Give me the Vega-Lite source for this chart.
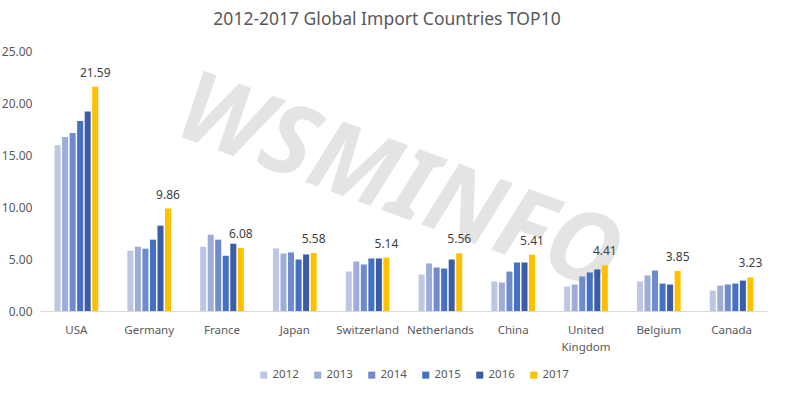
{
  "$schema": "https://vega.github.io/schema/vega-lite/v6.json",
  "width": 728,
  "height": 270,
  "autosize": {"type": "none"},
  "padding": {"left": 40, "top": 41, "right": 23, "bottom": 83},
  "background": "white",
  "title": {"text": "2012-2017 Global Import Countries TOP10", "fontSize": 17.5, "font": "Noto Sans", "fontWeight": "normal", "color": "#595959", "offset": 13, "dx": -17},
  "config": {"view": {"stroke": null}, "font": "Noto Sans"},
  "datasets": {
    "imports": [
      {"country": "USA", "year": "2012", "value": 15.95},
      {"country": "USA", "year": "2013", "value": 16.75},
      {"country": "USA", "year": "2014", "value": 17.15},
      {"country": "USA", "year": "2015", "value": 18.3},
      {"country": "USA", "year": "2016", "value": 19.2},
      {"country": "USA", "year": "2017", "value": 21.59},
      {"country": "Germany", "year": "2012", "value": 5.8},
      {"country": "Germany", "year": "2013", "value": 6.19},
      {"country": "Germany", "year": "2014", "value": 6.0},
      {"country": "Germany", "year": "2015", "value": 6.87},
      {"country": "Germany", "year": "2016", "value": 8.22},
      {"country": "Germany", "year": "2017", "value": 9.86},
      {"country": "France", "year": "2012", "value": 6.19},
      {"country": "France", "year": "2013", "value": 7.35},
      {"country": "France", "year": "2014", "value": 6.87},
      {"country": "France", "year": "2015", "value": 5.32},
      {"country": "France", "year": "2016", "value": 6.48},
      {"country": "France", "year": "2017", "value": 6.08},
      {"country": "Japan", "year": "2012", "value": 6.03},
      {"country": "Japan", "year": "2013", "value": 5.54},
      {"country": "Japan", "year": "2014", "value": 5.64},
      {"country": "Japan", "year": "2015", "value": 4.96},
      {"country": "Japan", "year": "2016", "value": 5.45},
      {"country": "Japan", "year": "2017", "value": 5.58},
      {"country": "Switzerland", "year": "2012", "value": 3.8},
      {"country": "Switzerland", "year": "2013", "value": 4.77},
      {"country": "Switzerland", "year": "2014", "value": 4.48},
      {"country": "Switzerland", "year": "2015", "value": 5.06},
      {"country": "Switzerland", "year": "2016", "value": 5.06},
      {"country": "Switzerland", "year": "2017", "value": 5.14},
      {"country": "Netherlands", "year": "2012", "value": 3.51},
      {"country": "Netherlands", "year": "2013", "value": 4.58},
      {"country": "Netherlands", "year": "2014", "value": 4.19},
      {"country": "Netherlands", "year": "2015", "value": 4.09},
      {"country": "Netherlands", "year": "2016", "value": 4.96},
      {"country": "Netherlands", "year": "2017", "value": 5.56},
      {"country": "China", "year": "2012", "value": 2.84},
      {"country": "China", "year": "2013", "value": 2.74},
      {"country": "China", "year": "2014", "value": 3.8},
      {"country": "China", "year": "2015", "value": 4.67},
      {"country": "China", "year": "2016", "value": 4.67},
      {"country": "China", "year": "2017", "value": 5.41},
      {"country": "United Kingdom", "year": "2012", "value": 2.35},
      {"country": "United Kingdom", "year": "2013", "value": 2.55},
      {"country": "United Kingdom", "year": "2014", "value": 3.32},
      {"country": "United Kingdom", "year": "2015", "value": 3.71},
      {"country": "United Kingdom", "year": "2016", "value": 4.0},
      {"country": "United Kingdom", "year": "2017", "value": 4.41},
      {"country": "Belgium", "year": "2012", "value": 2.84},
      {"country": "Belgium", "year": "2013", "value": 3.42},
      {"country": "Belgium", "year": "2014", "value": 3.9},
      {"country": "Belgium", "year": "2015", "value": 2.64},
      {"country": "Belgium", "year": "2016", "value": 2.55},
      {"country": "Belgium", "year": "2017", "value": 3.85},
      {"country": "Canada", "year": "2012", "value": 1.97},
      {"country": "Canada", "year": "2013", "value": 2.45},
      {"country": "Canada", "year": "2014", "value": 2.55},
      {"country": "Canada", "year": "2015", "value": 2.64},
      {"country": "Canada", "year": "2016", "value": 2.93},
      {"country": "Canada", "year": "2017", "value": 3.23}
    ],
    "watermark": [{"text": "WSMINFO", "country": "Switzerland", "value": 13}]
  },
  "layer": [
    {
      "data": {"name": "watermark"},
      "mark": {"type": "text", "fontSize": 98, "fontWeight": "bold", "fontStyle": "italic", "font": "Noto Sans", "color": "#E4E4E4", "angle": 20, "align": "center", "baseline": "middle", "dx": 32, "dy": -2},
      "encoding": {
        "x": {"field": "country", "type": "nominal"},
        "y": {"field": "value", "type": "quantitative"},
        "text": {"field": "text"}
      }
    },
    {
      "data": {"name": "imports"},
      "mark": {"type": "bar"},
      "encoding": {
        "x": {"field": "country", "type": "nominal", "title": null,
          "scale": {"domain": ["USA", "Germany", "France", "Japan", "Switzerland", "Netherlands", "China", "United Kingdom", "Belgium", "Canada"], "paddingInner": 0.4, "paddingOuter": 0.2},
          "axis": {"labelAngle": 0, "labelAlign": "center", "labelBaseline": "top", "ticks": false, "domainColor": "#D9D9D9", "labelColor": "#595959", "labelFontSize": 11.5, "labelFont": "Noto Sans", "labelPadding": 13,
            "labelExpr": "datum.value == 'United Kingdom' ? ['United', 'Kingdom'] : datum.value", "labelLineHeight": 17}},
        "xOffset": {"field": "year", "type": "nominal", "scale": {"paddingInner": 0.2, "paddingOuter": 0}},
        "y": {"field": "value", "type": "quantitative", "title": null,
          "scale": {"domain": [0, 25]},
          "axis": {"values": [0, 5, 10, 15, 20, 25], "format": ".2f", "grid": false, "domain": false, "ticks": false, "labelColor": "#595959", "labelFontSize": 12, "labelFont": "Noto Sans", "labelPadding": 8}},
        "color": {"field": "year", "type": "nominal", "title": null,
          "scale": {"domain": ["2012", "2013", "2014", "2015", "2016", "2017"], "range": ["#BDC6E2", "#9DADD8", "#6E8BCB", "#4471C2", "#3A5DA6", "#FFC000"]},
          "legend": {"orient": "none", "direction": "horizontal", "legendX": 218, "legendY": 328, "symbolType": "square", "symbolSize": 50, "symbolStrokeWidth": 0, "labelFontSize": 11.5, "labelColor": "#595959", "labelFont": "Noto Sans", "columnPadding": 13, "labelOffset": 3}}
      }
    },
    {
      "data": {"name": "imports"},
      "transform": [{"filter": "datum.year == '2017'"}],
      "mark": {"type": "text", "dy": -14, "fontSize": 12, "font": "Noto Sans", "color": "#404040"},
      "encoding": {
        "x": {"field": "country", "type": "nominal"},
        "xOffset": {"field": "year", "type": "nominal"},
        "y": {"field": "value", "type": "quantitative"},
        "text": {"field": "value", "type": "quantitative", "format": ".2f"}
      }
    }
  ]
}
